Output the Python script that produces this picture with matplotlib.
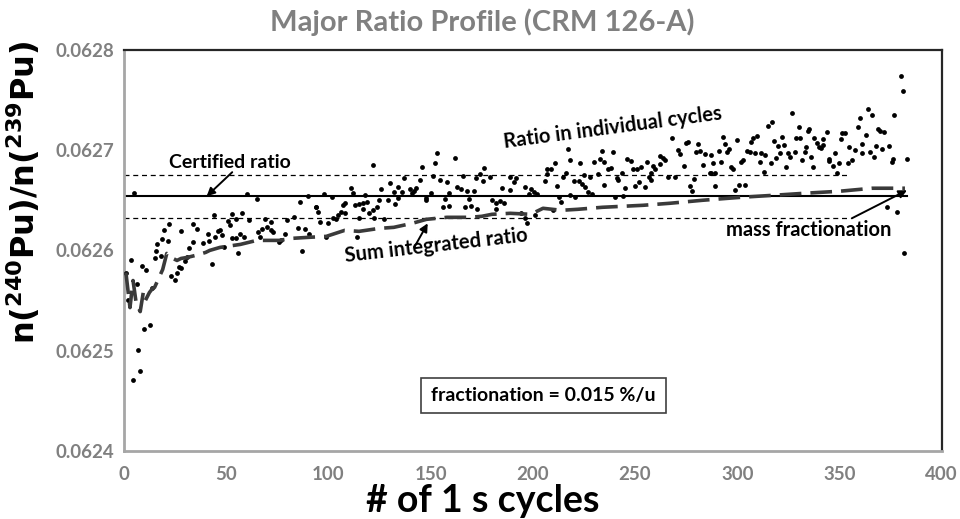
import matplotlib
matplotlib.use("Agg")
import matplotlib.pyplot as plt
from matplotlib.patches import Rectangle

# ---------------- data ----------------
cycles = [4.9, 44, 22, 19.6, 33.7, 36, 28, 46, 18.6, 21.5, 33.7, 41.5, 16, 38.6, 44.5, 41, 32, 15.6, 18, 15,
          3.4, 31, 30, 8.8, 11, 27, 28, 43, 26, 25, 23, 1, 6.4, 14, 2, 13, 10, 7, 8, 4.4,
          60, 65, 90, 86, 94, 53, 58, 51, 55, 61, 69, 72, 80, 83, 52, 70, 72, 67.5, 85, 88.5,
          47, 65.5, 73, 57, 55, 59, 48, 79, 66.5, 77, 53, 49, 76, 90.5, 56, 87,
          122, 137, 130, 134, 132, 136, 140, 141, 111, 112, 98, 102, 118, 126, 129, 125, 134, 132.5, 108, 113,
          117, 119, 115, 124, 117, 107, 94, 95, 106, 108, 120, 122, 104.5, 102.5, 104, 115, 122.5, 127, 96, 100,
          99, 114,
          153, 162, 152, 146, 176, 174, 172, 189, 145, 151, 154.5, 158, 166, 175.6, 179, 163, 165, 168, 171, 185,
          189, 143, 142, 150, 159, 148, 157, 148, 169, 180, 184, 182, 186, 156, 159, 167, 170, 172.6, 182,
          217, 234, 218, 223, 211, 230, 233, 235, 207, 209, 237, 216, 232, 228, 225, 207, 192, 215, 206, 220,
          222.5, 191, 224, 225.5, 212, 235, 196, 199, 200.5, 202, 198, 227, 229, 218, 220.5, 213, 214, 210, 194, 196,
          197, 201,
          268, 275, 276, 281, 239, 271, 280, 282, 262, 272, 284, 246, 248, 263.5, 264.5, 256, 283, 274, 262, 238,
          249, 251, 253, 259, 260, 243.5, 258, 241, 241.5, 257, 257.7, 266, 269.5, 286.5, 252, 279, 250, 255, 245, 277,
          278, 240, 244,
          327, 317, 315, 330, 309.5, 307.5, 293, 300, 306.6, 318, 322, 328.6, 330.6, 294, 320, 323, 334.5, 296, 295, 291,
          304.6, 306, 308.5, 311.5, 324.7, 328, 333, 287, 313.4, 320.8, 325.6, 319, 303, 301.7, 311, 288, 292, 316.4, 331.5, 297,
          297.8, 323.7, 313, 289, 287, 289, 299, 301, 303.7,
          380, 381, 364, 366, 376.5, 360, 359, 335, 344, 351, 352.6, 369, 369.7, 371.6, 363, 337.4, 341.7, 350.6, 338.9, 341.8,
          361, 340, 340.8, 333.5, 354.5, 367.7, 374, 371, 357.5, 360.9, 364.8, 347.7, 336, 367, 345, 344.7, 376, 375.6, 383, 356,
          354, 349.6, 346.7, 337, 348.6, 373, 378, 381.4]

ratios = [.062657, .062635, .062626, .06262, .062626, .062621, .062619, .062619, .062611, .062609, .062608, .062609, .062606, .062607, .062613, .062616, .062602, .062599, .062594, .062592,
          .06259, .062593, .062589, .062584, .06258, .062583, .062582, .062586, .062577, .062571, .062574, .062577, .062567, .062563, .062551, .062526, .062522, .062501, .06248, .062471,
          .062656, .062651, .062654, .062648, .062643, .062636, .062637, .062629, .062631, .06263, .062631, .062628, .06263, .062633, .062625, .062623, .06262, .062621, .062622, .062621,
          .06262, .062618, .062618, .062616, .062612, .062613, .062615, .062616, .062613, .06261, .062612, .062603, .062608, .062616, .062597, .062599,
          .062685, .062672, .062667, .062663, .062658, .062658, .062661, .062657, .062662, .062657, .062656, .062653, .062655, .062661, .06265, .06265, .062652, .062646, .062647, .062645,
          .062647, .062648, .062646, .062643, .062641, .062645, .062643, .062638, .062638, .062637, .062637, .06264, .062635, .062632, .062631, .062632, .062632, .062631, .062628, .062627,
          .062613, .062613,
          .062697, .062692, .062687, .062683, .062682, .062676, .062672, .062673, .06267, .062674, .06267, .062668, .062674, .062669, .062673, .062663, .062661, .062659, .062659, .062662,
          .06266, .062662, .062659, .062657, .062657, .062652, .062651, .06265, .062651, .06265, .062649, .062647, .062647, .062643, .062644, .062643, .062644, .062641, .062641,
          .062701, .062699, .06269, .062687, .062687, .062688, .062691, .062688, .062681, .062681, .062681, .062677, .062676, .062673, .062675, .062676, .062672, .062673, .062669, .062669,
          .062669, .062668, .062666, .062663, .062664, .062665, .062663, .062661, .062658, .062656, .062656, .062658, .062656, .062655, .062653, .062653, .062648, .06264, .062637, .062632,
          .062627, .062635,
          .062712, .062707, .062708, .062706, .062698, .0627, .062698, .062699, .062694, .062696, .062696, .062691, .062689, .062692, .06269, .062688, .062685, .062684, .062686, .062682,
          .062681, .062681, .062683, .062684, .062681, .062677, .062677, .062672, .06267, .062673, .06267, .062673, .062673, .062677, .062668, .062671, .062664, .062663, .062662, .062664,
          .062659, .062653, .062654,
          .062737, .062728, .062724, .062723, .062714, .062712, .062713, .06271, .062708, .062709, .062713, .062712, .062712, .062706, .062704, .062705, .062719, .062701, .062698, .062699,
          .062699, .062698, .062697, .062697, .062697, .062698, .062698, .062695, .062695, .062697, .062693, .062692, .06269, .062688, .062688, .062687, .062688, .062687, .06269, .062683,
          .062681, .062683, .062678, .062677, .062677, .062664, .06266, .062665, .062665,
          .062774, .062759, .062741, .062735, .062735, .062732, .062723, .062721, .062718, .062717, .062717, .062721, .062719, .062718, .062715, .062712, .062711, .062711, .062707, .062705,
          .062706, .062703, .062702, .062703, .062703, .062704, .062704, .062701, .0627, .062697, .062698, .062697, .062693, .062693, .062691, .062689, .062691, .062688, .062691, .06269,
          .062687, .062687, .062684, .062683, .062677, .062643, .062638, .062597]

sum_cycles = [1, 3, 4.5, 6, 8, 9.5, 10.5, 12.5, 14, 15, 17, 19, 21, 24, 26, 28, 31, 35, 40, 42, 47, 57, 65, 76,
              82, 90, 99, 108, 115, 125, 132, 141, 148, 158, 169, 175, 180, 189, 199, 205, 214, 222, 234, 254,
              267, 283, 302, 318, 333, 350, 366, 382]
sum_ratio = [.062578, .062543, .06257, .062548, .062539, .062558, .06255, .062558, .062562, .062563, .062572, .062581,
             .062597, .062592, .06259, .062592, .062593, .062595, .062598, .0626, .062603, .062606, .06261, .06261,
             .062612, .062613, .062614, .06262, .062619, .062622, .062623, .062627, .062631, .062633, .062633, .062634,
             .062636, .062637, .062636, .062642, .06264, .062641, .062643, .062645, .062647, .06265, .062653, .062655,
             .062657, .062659, .062662, .062662]

certified = 0.062654
cert_unc = 0.0000215
cert_span = [1, 383]
unc_span = [0, 354]

x_ticks = [0, 50, 100, 150, 200, 250, 300, 350, 400]
y_ticks = [0.0624, 0.0625, 0.0626, 0.0627, 0.0628]

# ---------------- figure ----------------
plt.rcParams['font.family'] = ['Lato', 'DejaVu Sans']
fig = plt.figure(figsize=(9.6, 5.19), dpi=100)
ax = fig.add_axes([0.129, 0.131, 0.852, 0.773])

ax.scatter(cycles, ratios, s=12, color='black', zorder=3, linewidths=0)

ax.plot(cert_span, [certified, certified], color='black', lw=1.5, zorder=2)
ax.plot(unc_span, [certified + cert_unc] * 2, color='black', lw=0.9, ls=(0, (4, 3)), zorder=2)
ax.plot(unc_span, [certified - cert_unc] * 2, color='black', lw=0.9, ls=(0, (4, 3)), zorder=2)
ax.plot(sum_cycles, sum_ratio, color='#3a3a3a', lw=2.6, ls=(0, (6, 2.5)), zorder=4)

ax.set_xlim(0, 400)
ax.set_ylim(0.0624, 0.0628)
ax.set_xticks(x_ticks)
ax.set_yticks(y_ticks)
ax.set_yticklabels([f"{v:.4f}" for v in y_ticks])
ax.tick_params(axis='both', length=0, labelsize=13.5, labelcolor='#808080')
ax.tick_params(axis='x', pad=11)
ax.tick_params(axis='y', pad=7)
for lab in ax.get_xticklabels() + ax.get_yticklabels():
    lab.set_fontweight('bold')

for s in ['left', 'bottom']:
    ax.spines[s].set_color('#a6a6a6')
    ax.spines[s].set_linewidth(2)
for s in ['top', 'right']:
    ax.spines[s].set_color('#262626')
    ax.spines[s].set_linewidth(1.6)

fig.text(482 / 960, 1 - 22 / 519, 'Major Ratio Profile (CRM 126-A)', ha='center', va='center',
         fontsize=21, fontweight='bold', color='#808080')
fig.text(483 / 960, 1 - 512 / 519, '# of 1 s cycles', ha='center', va='baseline',
         fontsize=27, fontweight='bold', color='black')
ax.set_ylabel(r'n($^{\mathbf{240}}$Pu)/n($^{\mathbf{239}}$Pu)', fontsize=23, fontweight='bold',
              color='black', family='DejaVu Sans')
ax.yaxis.set_label_coords(-0.1, 0.645)

arrow = dict(arrowstyle='-|>', color='black', lw=1.4, mutation_scale=12, shrinkA=0, shrinkB=0)
ax.annotate('', xy=(40.5, certified), xytext=(53, 0.062678), arrowprops=arrow, zorder=5)
ax.text(52, 0.062688, 'Certified ratio', ha='center', va='center', fontsize=14, fontweight='bold')

ax.annotate('', xy=(148.6, 0.062627), xytext=(142, 0.062603), arrowprops=arrow, zorder=5)
ax.text(153, 0.062605, 'Sum integrated ratio', ha='center', va='center', fontsize=14.5,
        fontweight='bold', rotation=6.5, rotation_mode='anchor')

ax.text(239, 0.062722, 'Ratio in individual cycles', ha='center', va='center', fontsize=14.5,
        fontweight='bold', rotation=7.5, rotation_mode='anchor')

ax.annotate('', xy=(383, 0.062660), xytext=(356, 0.062632), arrowprops=arrow, zorder=5)
ax.text(335, 0.062620, 'mass fractionation', ha='center', va='center', fontsize=14.5, fontweight='bold')

ax.add_patch(Rectangle((145.2, 0.062438), 119.8, 0.000035, fill=False, edgecolor='#404040', lw=1.2, zorder=5))
ax.text(205, 0.0624555, 'fractionation = 0.015 %/u', ha='center', va='center', fontsize=14, fontweight='bold')

fig.savefig('out.png', dpi=100)
